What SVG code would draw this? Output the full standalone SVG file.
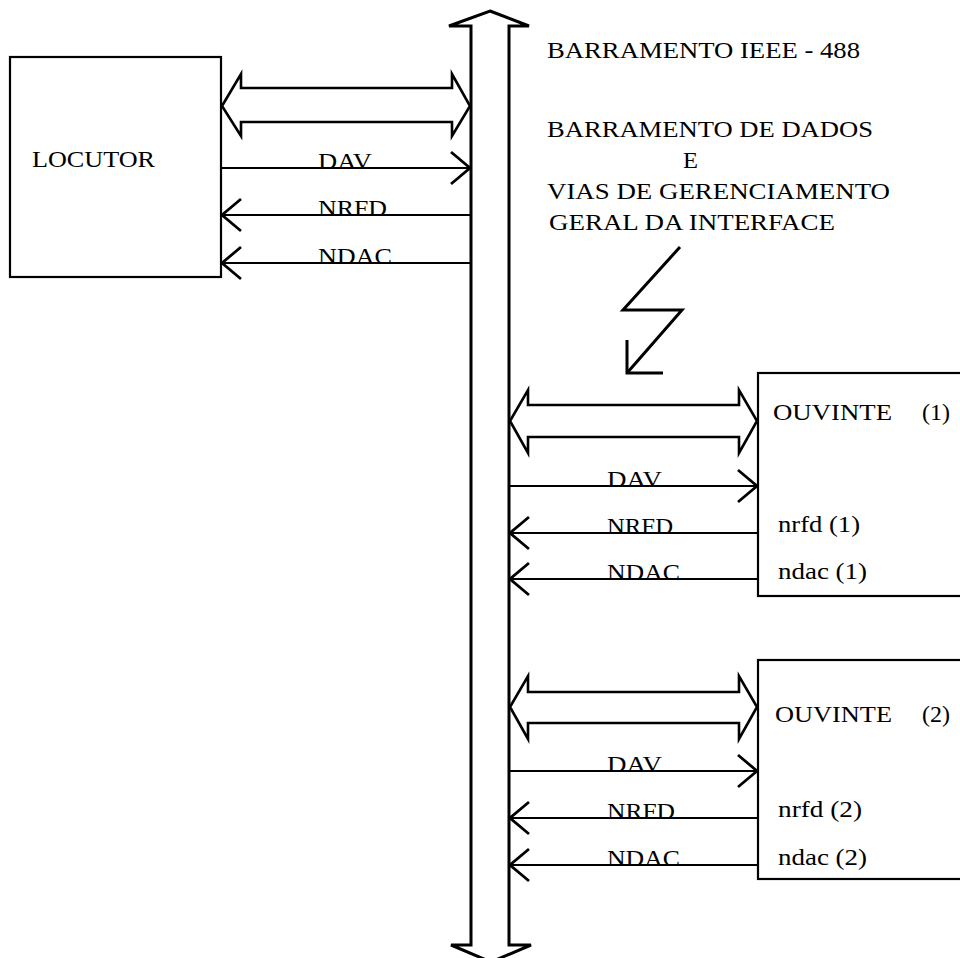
<svg xmlns="http://www.w3.org/2000/svg" width="960" height="958" viewBox="0 0 960 958">
<style>
  text { font-family: "Liberation Serif", "Times New Roman", serif; font-size: 23px; fill: #000; }
  .box { fill: #fff; stroke: #000; stroke-width: 2.2; }
  .bus { fill: #fff; stroke: #000; stroke-width: 3; stroke-linejoin: miter; }
  .dbl { fill: #fff; stroke: #000; stroke-width: 2.6; stroke-linejoin: miter; }
  .sig { fill: none; stroke: #000; stroke-width: 2.2; marker-end: url(#open); }
  .bolt { fill: none; stroke: #000; stroke-width: 3; stroke-linejoin: miter; }
</style>
<defs>
  <marker id="open" markerUnits="userSpaceOnUse" markerWidth="26" markerHeight="40" refX="21" refY="18" orient="auto" overflow="visible">
    <path d="M2,2 L21,18 L2,34" fill="none" stroke="#000" stroke-width="2.8"/>
  </marker>
</defs>
<rect width="960" height="958" fill="#fff"/>

<g id="bus">
  <path class="bus" d="M490,11 L529,26 L509,26 L509,945 L531,945 L491,962 L451,945 L471,945 L471,26 L449,26 Z"/>
</g>

<g id="locutor">
  <rect class="box" x="10" y="57" width="211" height="220"/>
  <text x="32" y="167" textLength="123" lengthAdjust="spacingAndGlyphs">LOCUTOR</text>
</g>

<g id="ouvinte1">
  <rect class="box" x="758" y="373" width="206" height="223"/>
  <text x="773" y="420"><tspan textLength="119" lengthAdjust="spacingAndGlyphs">OUVINTE</tspan><tspan x="922" textLength="28" lengthAdjust="spacingAndGlyphs">(1)</tspan></text>
  <text x="778" y="532" textLength="82" lengthAdjust="spacingAndGlyphs">nrfd (1)</text>
  <text x="778" y="579" textLength="89" lengthAdjust="spacingAndGlyphs">ndac (1)</text>
</g>

<g id="ouvinte2">
  <rect class="box" x="758" y="660" width="206" height="219"/>
  <text x="775" y="722"><tspan textLength="117" lengthAdjust="spacingAndGlyphs">OUVINTE</tspan><tspan x="922" textLength="28" lengthAdjust="spacingAndGlyphs">(2)</tspan></text>
  <text x="778" y="817" textLength="84" lengthAdjust="spacingAndGlyphs">nrfd (2)</text>
  <text x="778" y="865" textLength="89" lengthAdjust="spacingAndGlyphs">ndac (2)</text>
</g>

<g id="bus-label">
  <text x="547" y="58" textLength="313" lengthAdjust="spacingAndGlyphs">BARRAMENTO IEEE - 488</text>
  <text x="547" y="137" textLength="326" lengthAdjust="spacingAndGlyphs">BARRAMENTO DE DADOS</text>
  <text x="683" y="168" textLength="15" lengthAdjust="spacingAndGlyphs">E</text>
  <text x="547" y="199" textLength="343" lengthAdjust="spacingAndGlyphs">VIAS DE GERENCIAMENTO</text>
  <text x="549" y="230" textLength="286" lengthAdjust="spacingAndGlyphs">GERAL DA INTERFACE</text>
  <polyline class="bolt" points="680,247 623,310 682,310 627,373"/>
  <polyline class="bolt" points="627,340 627,373 663,373"/>
</g>

<g id="connectors">
  <!-- Locutor -->
  <polygon class="dbl" points="222,106 241,74 241,88 452,88 452,74 470,106 452,136 452,122 241,122 241,136"/>
  <line class="sig" x1="221" y1="168" x2="470" y2="168"/>
  <line class="sig" x1="471" y1="215" x2="222" y2="215"/>
  <line class="sig" x1="471" y1="263" x2="222" y2="263"/>
  <!-- Ouvinte 1 -->
  <polygon class="dbl" points="510,421 528,390 528,405 739,405 739,390 757,421 739,453 739,437 528,437 528,453"/>
  <line class="sig" x1="509" y1="486" x2="757" y2="486"/>
  <line class="sig" x1="758" y1="533" x2="510" y2="533"/>
  <line class="sig" x1="758" y1="579" x2="510" y2="579"/>
  <!-- Ouvinte 2 -->
  <polygon class="dbl" points="510,707 528,676 528,692 739,692 739,676 757,707 739,739 739,723 528,723 528,739"/>
  <line class="sig" x1="509" y1="771" x2="757" y2="771"/>
  <line class="sig" x1="758" y1="818" x2="510" y2="818"/>
  <line class="sig" x1="758" y1="865" x2="510" y2="865"/>
</g>

<g id="signal-labels">
  <text x="318" y="169" textLength="54" lengthAdjust="spacingAndGlyphs">DAV</text>
  <text x="318" y="216" textLength="69" lengthAdjust="spacingAndGlyphs">NRFD</text>
  <text x="318" y="264" textLength="74" lengthAdjust="spacingAndGlyphs">NDAC</text>
  <text x="607" y="487" textLength="55" lengthAdjust="spacingAndGlyphs">DAV</text>
  <text x="607" y="534" textLength="66" lengthAdjust="spacingAndGlyphs">NRFD</text>
  <text x="607" y="580" textLength="73" lengthAdjust="spacingAndGlyphs">NDAC</text>
  <text x="607" y="772" textLength="55" lengthAdjust="spacingAndGlyphs">DAV</text>
  <text x="607" y="819" textLength="68" lengthAdjust="spacingAndGlyphs">NRFD</text>
  <text x="607" y="866" textLength="73" lengthAdjust="spacingAndGlyphs">NDAC</text>
</g>
</svg>
